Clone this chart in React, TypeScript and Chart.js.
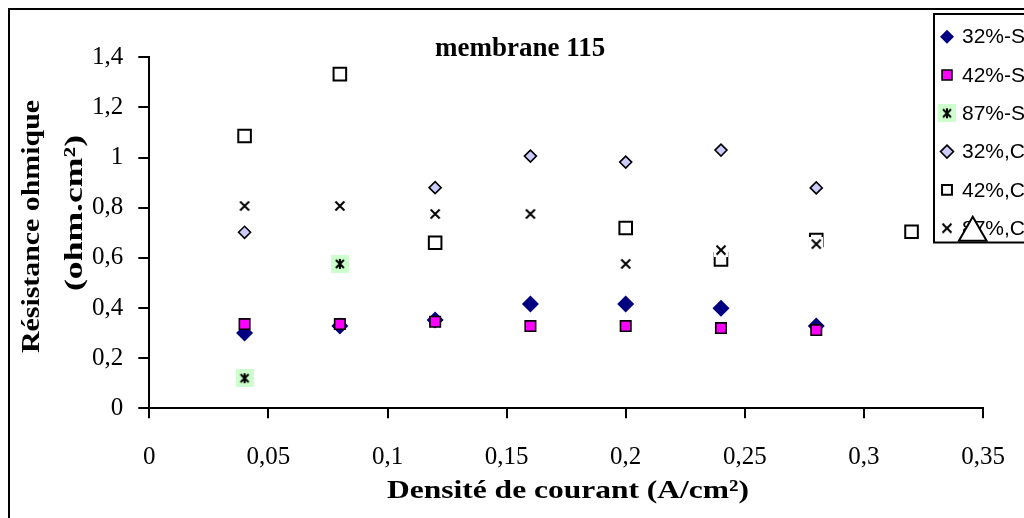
import React, { useEffect, useRef } from "react";
import { Chart, registerables } from "chart.js";

Chart.register(...registerables);

// ---------- data ----------
const chartTitle = "membrane 115";
const xAxisTitle = "Densité de courant (A/cm²)";
const yAxisTitleLines = ["Résistance ohmique", "(ohm.cm²)"];

const xTicks = [0, 0.05, 0.1, 0.15, 0.2, 0.25, 0.3, 0.35];
const xTickLabels = ["0", "0,05", "0,1", "0,15", "0,2", "0,25", "0,3", "0,35"];
const yTicks = [0, 0.2, 0.4, 0.6, 0.8, 1, 1.2, 1.4];
const yTickLabels = ["0", "0,2", "0,4", "0,6", "0,8", "1", "1,2", "1,4"];

const seriesLabels = ["32%-S", "42%-S", "87%-S", "32%,C", "42%,C", "87%,C"];

const s32S_x = [0.04, 0.08, 0.12, 0.16, 0.2, 0.24, 0.28];
const s32S_y = [0.3, 0.328, 0.352, 0.416, 0.416, 0.399, 0.328];

const s42S_x = [0.04, 0.08, 0.12, 0.16, 0.2, 0.24, 0.28];
const s42S_y = [0.336, 0.336, 0.345, 0.328, 0.328, 0.32, 0.312];

const s87S_x = [0.04, 0.08];
const s87S_y = [0.12, 0.576];

const s32C_x = [0.04, 0.12, 0.16, 0.2, 0.24, 0.28];
const s32C_y = [0.702, 0.88, 1.006, 0.982, 1.03, 0.879];

const s42C_x = [0.04, 0.08, 0.12, 0.2, 0.24, 0.28, 0.32];
const s42C_y = [1.086, 1.333, 0.66, 0.719, 0.594, 0.671, 0.704];

const s87C_x = [0.04, 0.08, 0.12, 0.16, 0.2, 0.24, 0.28];
const s87C_y = [0.807, 0.807, 0.775, 0.775, 0.576, 0.631, 0.655];

const extra_x = [0.3457];
const extra_y = [0.7];

// ---------- styling ----------
const SERIF = "'Liberation Serif', 'Times New Roman', serif";
const SANS = "'Liberation Sans', Arial, sans-serif";
const CANVAS_W = 1100;
const CANVAS_H = 540;

function pts(xs: number[], ys: number[]) {
  return xs.map((x, i) => ({ x, y: ys[i] }));
}

function makeStarMarker(): HTMLCanvasElement {
  const c = document.createElement("canvas");
  c.width = 18;
  c.height = 18;
  const g = c.getContext("2d")!;
  g.fillStyle = "#ccffcc";
  g.fillRect(0, 0, 18, 18);
  g.strokeStyle = "#000";
  g.lineWidth = 2;
  g.beginPath();
  g.moveTo(5, 5);
  g.lineTo(13, 13);
  g.moveTo(13, 5);
  g.lineTo(5, 13);
  g.moveTo(9, 4);
  g.lineTo(9, 14);
  g.stroke();
  return c;
}

function makeCrossMarker(): HTMLCanvasElement {
  const c = document.createElement("canvas");
  c.width = 14;
  c.height = 14;
  const g = c.getContext("2d")!;
  g.fillStyle = "#ffffff";
  g.fillRect(0, 0, 14, 14);
  g.strokeStyle = "#000";
  g.lineWidth = 2;
  g.beginPath();
  g.moveTo(2.5, 2.5);
  g.lineTo(11.5, 11.5);
  g.moveTo(11.5, 2.5);
  g.lineTo(2.5, 11.5);
  g.stroke();
  return c;
}

function drawMarker(
  ctx: CanvasRenderingContext2D,
  style: any,
  x: number,
  y: number,
  r: number,
  fill: string,
  stroke: string,
  lw: number
) {
  if (style instanceof HTMLCanvasElement) {
    ctx.drawImage(style, x - style.width / 2, y - style.height / 2);
    return;
  }
  ctx.beginPath();
  if (style === "rectRot") {
    ctx.moveTo(x, y - r);
    ctx.lineTo(x + r, y);
    ctx.lineTo(x, y + r);
    ctx.lineTo(x - r, y);
    ctx.closePath();
  } else if (style === "rect") {
    const h = r * Math.SQRT1_2;
    ctx.rect(x - h, y - h, 2 * h, 2 * h);
  }
  ctx.fillStyle = fill;
  ctx.fill();
  if (lw > 0) {
    ctx.lineWidth = lw;
    ctx.strokeStyle = stroke;
    ctx.stroke();
  }
}

const legendPlugin = {
  id: "customLegend",
  beforeDatasetsDraw(chart: any) {
    const ctx: CanvasRenderingContext2D = chart.ctx;
    ctx.save();
    const bx = 924;
    const by = 4;
    const bh = 228.5;
    ctx.fillStyle = "#fff";
    ctx.fillRect(bx, by, 300, bh);
    ctx.lineWidth = 2;
    ctx.strokeStyle = "#000";
    ctx.strokeRect(bx, by, 300, bh);
    const legendR = [7, 7, 0, 6.5, 7, 0];
    ctx.font = `21px ${SANS}`;
    ctx.textBaseline = "middle";
    ctx.textAlign = "left";
    seriesLabels.forEach((label, i) => {
      const ds = chart.data.datasets[i];
      const cy = by + 22.7 + i * 38.3;
      drawMarker(
        ctx,
        ds.pointStyle,
        bx + 13,
        cy,
        legendR[i],
        ds.backgroundColor,
        ds.borderColor,
        ds.borderWidth
      );
      ctx.fillStyle = "#000";
      ctx.fillText(label, bx + 28, cy + 1);
    });
    ctx.restore();
  },
};

const titlesPlugin = {
  id: "customTitles",
  afterDraw(chart: any) {
    const ctx: CanvasRenderingContext2D = chart.ctx;
    ctx.save();
    ctx.fillStyle = "#000";
    // chart title
    ctx.font = `bold 27px ${SERIF}`;
    ctx.textAlign = "left";
    ctx.textBaseline = "alphabetic";
    ctx.fillText(chartTitle, 425, 46);

    // x axis title
    ctx.font = `bold 26px ${SERIF}`;
    ctx.textAlign = "center";
    const xw = ctx.measureText(xAxisTitle).width;
    const sx = 362 / xw;
    ctx.save();
    ctx.translate(558, 488);
    ctx.scale(sx, 1);
    ctx.fillText(xAxisTitle, 0, 0);
    ctx.restore();

    // y axis title
    const targetLen = [253, 156];
    const baseX = [29.3, 72.3];
    const centerY = [216.5, 203];
    yAxisTitleLines.forEach((line, i) => {
      const w = ctx.measureText(line).width;
      ctx.save();
      ctx.translate(baseX[i], centerY[i]);
      ctx.rotate(-Math.PI / 2);
      ctx.scale(targetLen[i] / w, 1);
      ctx.fillText(line, 0, 0);
      ctx.restore();
    });
    ctx.restore();
  },
};

export default function App() {
  const ref = useRef<HTMLCanvasElement | null>(null);

  useEffect(() => {
    const canvas = ref.current;
    if (!canvas) return;
    const star = makeStarMarker();
    const cross = makeCrossMarker();

    const chart = new Chart(canvas, {
      type: "scatter",
      data: {
        datasets: [
          {
            label: seriesLabels[0],
            data: pts(s32S_x, s32S_y),
            pointStyle: "rectRot",
            pointRadius: 8.5,
            pointHoverRadius: 8.5,
            backgroundColor: "#000080",
            borderColor: "#000080",
            borderWidth: 0,
            order: 10,
            clip: false,
          },
          {
            label: seriesLabels[1],
            data: pts(s42S_x, s42S_y),
            pointStyle: "rect",
            pointRadius: 7.4,
            pointHoverRadius: 7.4,
            backgroundColor: "#ff00ff",
            borderColor: "#000000",
            borderWidth: 1.6,
            order: 9,
            clip: false,
          },
          {
            label: seriesLabels[2],
            data: pts(s87S_x, s87S_y),
            pointStyle: star,
            pointRadius: 9,
            backgroundColor: "#ccffcc",
            borderColor: "#000000",
            borderWidth: 0,
            order: 8,
            clip: false,
          },
          {
            label: seriesLabels[3],
            data: pts(s32C_x, s32C_y),
            pointStyle: "rectRot",
            pointRadius: 6,
            pointHoverRadius: 6,
            backgroundColor: "#ccccff",
            borderColor: "#000000",
            borderWidth: 1.6,
            order: 7,
            clip: false,
          },
          {
            label: seriesLabels[4],
            data: pts(s42C_x, s42C_y),
            pointStyle: "rect",
            pointRadius: 8.9,
            pointHoverRadius: 8.9,
            backgroundColor: "#ffffff",
            borderColor: "#000000",
            borderWidth: 2,
            order: 6,
            clip: false,
          },
          {
            label: seriesLabels[5],
            data: pts(s87C_x, s87C_y),
            pointStyle: cross,
            pointRadius: 7,
            backgroundColor: "#ffffff",
            borderColor: "#000000",
            borderWidth: 0,
            order: 5,
            clip: false,
          },
          {
            label: "",
            data: pts(extra_x, extra_y),
            pointStyle: "triangle",
            pointRadius: 16,
            pointHoverRadius: 16,
            backgroundColor: "#ffffff",
            borderColor: "#000000",
            borderWidth: 2,
            order: 0,
            clip: false,
          },
        ] as any,
      },
      options: {
        responsive: false,
        animation: false,
        events: [],
        layout: {
          padding: { left: 9.3, right: CANVAS_W - 973, top: 47.3, bottom: CANVAS_H - 398.3 - 100 },
        },
        plugins: {
          legend: { display: false },
          title: { display: false },
          tooltip: { enabled: false },
        },
        scales: {
          x: {
            type: "linear",
            min: 0,
            max: 0.35,
            afterBuildTicks: (s: any) => {
              s.ticks = xTicks.map((v) => ({ value: v }));
            },
            afterFit: (s: any) => {
              s.height = 100;
            },
            ticks: {
              callback: (_v: any, i: number) => xTickLabels[i],
              font: { family: SERIF, size: 25 },
              color: "#000",
              padding: 24,
              maxRotation: 0,
              autoSkip: false,
            },
            grid: {
              drawOnChartArea: false,
              drawTicks: true,
              tickLength: 10,
              tickColor: "#000",
              tickWidth: 2,
              color: "#000",
              lineWidth: 2,
            },
            border: { display: true, color: "#000", width: 2 },
          },
          y: {
            type: "linear",
            min: 0,
            max: 1.4,
            afterBuildTicks: (s: any) => {
              s.ticks = yTicks.map((v) => ({ value: v }));
            },
            afterFit: (s: any) => {
              s.width = 130;
            },
            ticks: {
              callback: (_v: any, i: number) => yTickLabels[i],
              font: { family: SERIF, size: 25 },
              color: "#000",
              padding: 15,
              autoSkip: false,
            },
            grid: {
              drawOnChartArea: false,
              drawTicks: true,
              tickLength: 11,
              tickColor: "#000",
              tickWidth: 2,
              color: "#000",
              lineWidth: 2,
            },
            border: { display: true, color: "#000", width: 2 },
          },
        },
      } as any,
      plugins: [legendPlugin, titlesPlugin],
    });
    return () => chart.destroy();
  }, []);

  return (
    <div
      style={{
        position: "fixed",
        left: 8,
        top: 8,
        width: CANVAS_W,
        height: CANVAS_H,
        border: "2px solid #000",
        background: "#fff",
        overflow: "hidden",
      }}
    >
      <canvas ref={ref} width={CANVAS_W} height={CANVAS_H} style={{ display: "block" }} />
    </div>
  );
}
